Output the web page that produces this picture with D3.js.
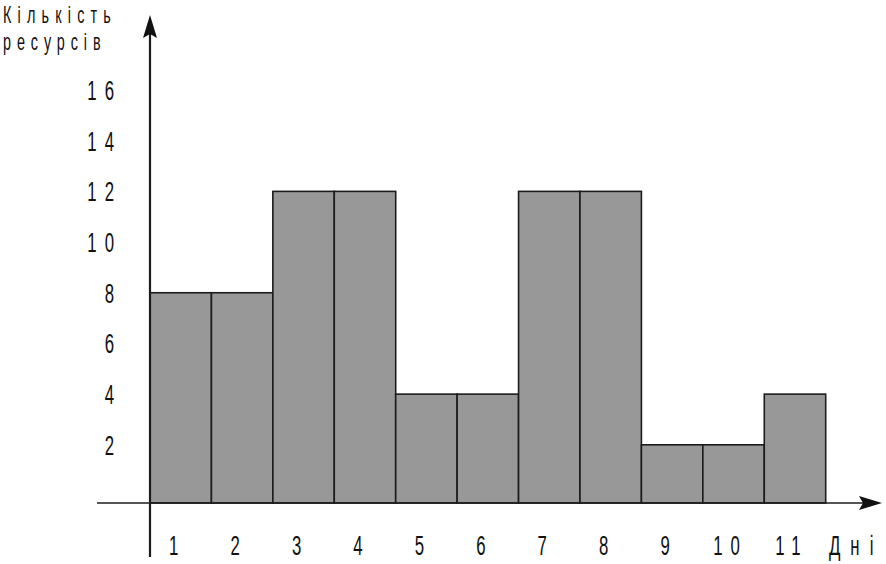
<!DOCTYPE html>
<html>
<head>
<meta charset="utf-8">
<script src="https://cdn.jsdelivr.net/npm/d3@7"></script>
<style>
  html, body { margin: 0; padding: 0; background: #fff; }
  svg text { font-family: "Liberation Sans", Arial, sans-serif; fill: #111; }
</style>
</head>
<body>
<svg id="chart" width="886" height="564"></svg>
<script>
// ---- data ----
const days = ["1","2","3","4","5","6","7","8","9","10","11"];
const resources = [8, 8, 12, 12, 4, 4, 12, 12, 2, 2, 4];
const yTicks = [2, 4, 6, 8, 10, 12, 14, 16];
const yTitle = ["Кількість", "ресурсів"];
const xTitle = "Дні";

// ---- layout ----
const svg = d3.select("#chart");
const originX = 150;
const axisY = 503;
const sx = 0.6; // horizontal condensing of text
const fontSize = 28;

const x = d3.scaleBand().domain(days).range([originX, 825.7]).padding(0);
const y = d3.scaleLinear().domain([0, 16]).range([495.5, 90]);

function label(px, py, text, anchor, ls, size) {
  let shift = 0;
  if (anchor === "middle") shift = ls / 2;
  if (anchor === "end") shift = ls;
  return svg.append("text")
    .attr("transform", `translate(${px + shift},${py}) scale(${sx},1)`)
    .attr("text-anchor", anchor)
    .attr("font-size", size || fontSize)
    .attr("letter-spacing", ls / sx)
    .text(text);
}

// ---- bars ----
svg.append("g").selectAll("rect")
  .data(days.map((d, i) => ({ day: d, v: resources[i] })))
  .join("rect")
  .attr("x", d => x(d.day))
  .attr("width", x.bandwidth())
  .attr("y", d => y(d.v))
  .attr("height", d => axisY - y(d.v))
  .attr("fill", "#989898")
  .attr("stroke", "#1c1c1c")
  .attr("stroke-width", 1.6);

// ---- axes ----
svg.append("line")
  .attr("x1", 97).attr("x2", 864)
  .attr("y1", axisY).attr("y2", axisY)
  .attr("stroke", "#1c1c1c").attr("stroke-width", 1.6);
svg.append("path")
  .attr("d", `M882,${axisY} L859,${axisY - 7} L863,${axisY} L859,${axisY + 7} Z`)
  .attr("fill", "#111");
svg.append("line")
  .attr("x1", originX).attr("x2", originX)
  .attr("y1", 557).attr("y2", 32)
  .attr("stroke", "#1c1c1c").attr("stroke-width", 2.2);
svg.append("path")
  .attr("d", `M${originX},15 L${originX - 7},38 L${originX},34 L${originX + 7},38 Z`)
  .attr("fill", "#111");

// ---- tick labels ----
yTicks.forEach(v => label(114, y(v) + 10, String(v), "end", 8));
days.forEach(d => label(x(d) + x.bandwidth() / 2 - 7, 555, d, "middle", 8));

// ---- titles ----
label(3, 23, yTitle[0], "start", 6.2, 24);
label(3, 50, yTitle[1], "start", 5.9, 24);
label(829, 555, xTitle, "start", 10);
</script>
</body>
</html>
